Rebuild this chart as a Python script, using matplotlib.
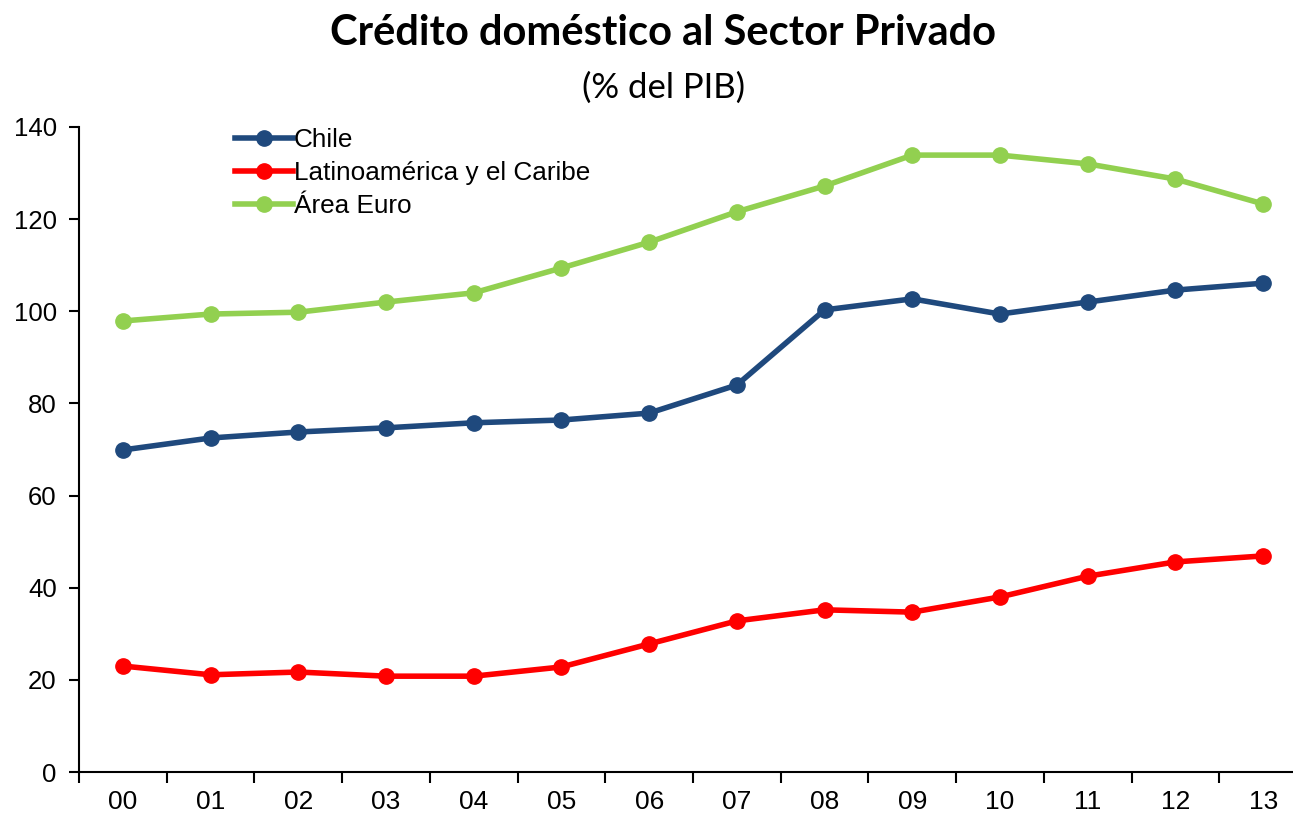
import numpy as np
import matplotlib.pyplot as plt

# data
years = ["00", "01", "02", "03", "04", "05", "06", "07", "08", "09", "10", "11", "12", "13"]
chile = [69.9, 72.5, 73.8, 74.7, 75.8, 76.4, 77.9, 84.0, 100.3, 102.7, 99.4, 102.0, 104.6, 106.1]
latam = [23.0, 21.1, 21.7, 20.8, 20.8, 22.8, 27.8, 32.8, 35.2, 34.7, 38.0, 42.5, 45.6, 46.9]
euro = [97.9, 99.4, 99.8, 102.0, 104.0, 109.4, 115.0, 121.6, 127.2, 133.9, 133.9, 132.0, 128.7, 123.3]

series = [
    ("Chile", chile, "#1F497D"),
    ("Latinoamérica y el Caribe", latam, "#FF0000"),
    ("Área Euro", euro, "#92D050"),
]

plt.rcParams["font.family"] = ["Liberation Sans", "DejaVu Sans"]

fig = plt.figure(figsize=(12.93, 8.16), dpi=100)
ax = fig.add_axes([79 / 1293, 1 - 772 / 816, (1307 - 79) / 1293, (772 - 127) / 816])

x = np.arange(len(years))
for name, vals, col in series:
    ax.plot(x, vals, color=col, lw=4, marker="o", ms=11, label=name)

ax.set_xlim(-0.5, len(years) - 0.5)
ax.set_ylim(0, 140)
ax.set_yticks(range(0, 141, 20))
ax.set_xticks(x)
ax.set_xticklabels(years)
ax.set_xticks(np.arange(-0.5, len(years), 1), minor=True)
ax.tick_params(axis="x", which="major", length=0, labelsize=19, pad=13)
ax.tick_params(axis="x", which="minor", length=8, width=1.5, direction="out")
ax.tick_params(axis="y", length=7, width=1.5, direction="out", labelsize=18.5, pad=9)

for s in ["top", "right"]:
    ax.spines[s].set_visible(False)
for s in ["left", "bottom"]:
    ax.spines[s].set_linewidth(1.5)

leg = ax.legend(loc="upper left", bbox_to_anchor=(0.108, 1.035), frameon=False,
                fontsize=18.8, handlelength=2.2, handletextpad=0.05, labelspacing=0.35)

fig.text(0.513, 0.96, "Crédito doméstico al Sector Privado", ha="center", va="center",
         fontsize=30, fontweight="bold", family=["Lato", "DejaVu Sans"])
fig.text(0.513, 0.892, "(% del PIB)", ha="center", va="center",
         fontsize=25, family=["Lato", "DejaVu Sans"])

fig.savefig("out.png", dpi=100)
